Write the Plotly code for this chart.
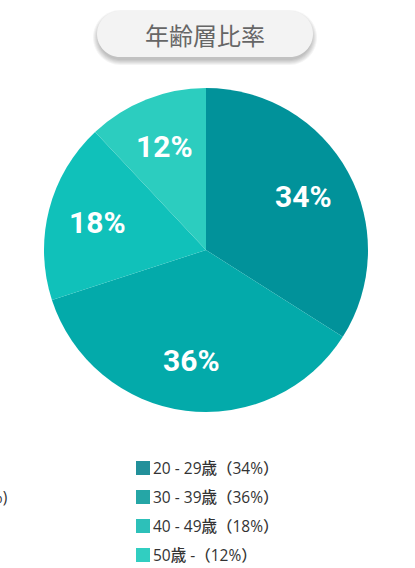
import math
import plotly.graph_objects as go

W, H = 415, 568

categories = ["20 - 29歳", "30 - 39歳", "40 - 49歳", "50歳 -"]
values = [34, 36, 18, 12]
slice_colors = ["#01929A", "#03AAAA", "#10C1BA", "#2CCDBF"]
legend_colors = ["#22909A", "#25A6A6", "#2DC0B9", "#31CEC1"]
title_text = "年齢層比率"


def fx(px):
    return px / W


def fy(py):
    return 1 - py / H


def pill_path(x0, y0, x1, y1):
    r = (y1 - y0) / 2
    k = 0.5523 * r
    ym = (y0 + y1) / 2
    pts = [
        f"M{fx(x0 + r)},{fy(y0)}",
        f"L{fx(x1 - r)},{fy(y0)}",
        f"C{fx(x1 - r + k)},{fy(y0)} {fx(x1)},{fy(ym - k)} {fx(x1)},{fy(ym)}",
        f"C{fx(x1)},{fy(ym + k)} {fx(x1 - r + k)},{fy(y1)} {fx(x1 - r)},{fy(y1)}",
        f"L{fx(x0 + r)},{fy(y1)}",
        f"C{fx(x0 + r - k)},{fy(y1)} {fx(x0)},{fy(ym + k)} {fx(x0)},{fy(ym)}",
        f"C{fx(x0)},{fy(ym - k)} {fx(x0 + r - k)},{fy(y0)} {fx(x0 + r)},{fy(y0)}",
        "Z",
    ]
    return " ".join(pts)


# pie geometry (pixels)
cx, cy, R = 206, 250, 162

fig = go.Figure(
    go.Pie(
        labels=categories,
        values=values,
        sort=False,
        direction="clockwise",
        rotation=0,
        marker=dict(colors=slice_colors, line=dict(width=0)),
        textinfo="none",
        hoverinfo="label+percent",
        showlegend=False,
        domain=dict(x=[fx(cx - R), fx(cx + R)], y=[fy(cy + R), fy(cy - R)]),
    )
)

shapes = []
# title pill shadow
for i in range(6):
    e = i * 1.0
    shapes.append(
        dict(
            type="path",
            xref="paper",
            yref="paper",
            path=pill_path(97 - e + 1, 11 + 3 - e + 1, 313 + e - 1, 57 + 3 + e),
            fillcolor="rgba(0,0,0,0.045)",
            line=dict(width=0),
            layer="below",
        )
    )
shapes.append(
    dict(
        type="path",
        xref="paper",
        yref="paper",
        path=pill_path(97, 11, 313, 57),
        fillcolor="#F3F3F3",
        line=dict(width=0),
        layer="below",
    )
)

legend_font = dict(family="Open Sans, Noto Sans CJK JP", size=15.5, color="#333333", weight=500)

annotations = [
    dict(
        text=title_text,
        x=fx(205),
        y=fy(35),
        xref="paper",
        yref="paper",
        showarrow=False,
        xanchor="center",
        yanchor="middle",
        font=dict(family="Noto Sans CJK JP", size=24, color="#666666"),
    ),
    dict(
        text="6%)",
        x=fx(9),
        y=fy(497),
        xref="paper",
        yref="paper",
        showarrow=False,
        xanchor="right",
        yanchor="middle",
        font=legend_font,
    ),
]

# percentage labels placed on each slice's bisector (from the values)
total = sum(values)
cum = 0
for v in values:
    mid = (cum + v / 2) / total * 2 * math.pi
    cum += v
    px = cx + 0.69 * R * math.sin(mid)
    py = cy - 0.69 * R * math.cos(mid)
    annotations.append(
        dict(
            text=f"{round(v / total * 100)}%",
            x=fx(px),
            y=fy(py),
            xref="paper",
            yref="paper",
            showarrow=False,
            xanchor="center",
            yanchor="middle",
            font=dict(family="Roboto", size=30, color="white", weight="bold"),
        )
    )

# legend (built from categories / values / colours)
lx, ly0, step, sq = 136, 468, 29, 14
for i, (cat, v, col) in enumerate(zip(categories, values, legend_colors)):
    yc = ly0 + i * step
    shapes.append(
        dict(
            type="rect",
            xref="paper",
            yref="paper",
            x0=fx(lx),
            x1=fx(lx + sq),
            y0=fy(yc + sq / 2),
            y1=fy(yc - sq / 2),
            fillcolor=col,
            line=dict(width=0),
        )
    )
    annotations.append(
        dict(
            text=f"{cat}（{round(v / total * 100)}%）",
            x=fx(lx + sq + 1),
            y=fy(yc),
            xref="paper",
            yref="paper",
            showarrow=False,
            xanchor="left",
            yanchor="middle",
            font=legend_font,
        )
    )

fig.update_layout(
    width=W,
    height=H,
    margin=dict(l=0, r=0, t=0, b=0),
    paper_bgcolor="white",
    plot_bgcolor="white",
    shapes=shapes,
    annotations=annotations,
)

fig.write_html("out.html", config={"displayModeBar": False})
